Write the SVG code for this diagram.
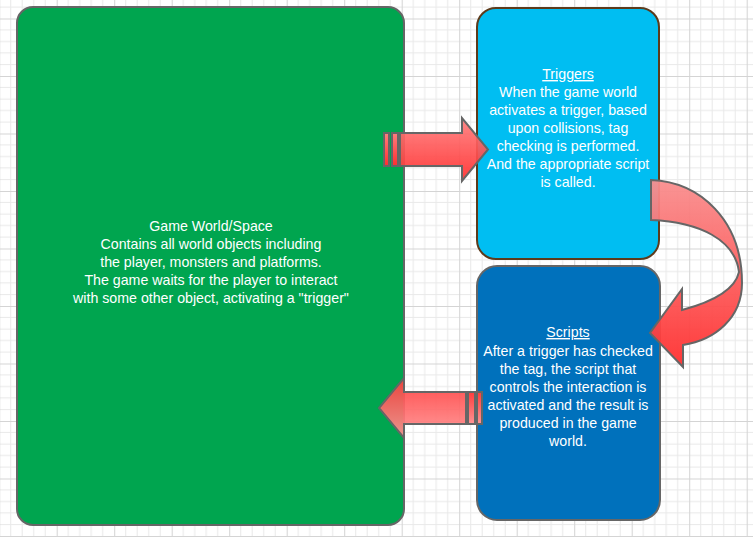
<svg xmlns="http://www.w3.org/2000/svg" width="753" height="537" viewBox="0 0 753 537">
<defs>
<pattern id="grid" patternUnits="userSpaceOnUse" x="-0.8" y="18.5" width="57.5" height="57.5">
<rect width="57.5" height="57.5" fill="#ffffff"/>
<g stroke="#e9e9e9" stroke-width="1">
<line x1="11.5" y1="0" x2="11.5" y2="57.5"/><line x1="23" y1="0" x2="23" y2="57.5"/><line x1="34.5" y1="0" x2="34.5" y2="57.5"/><line x1="46" y1="0" x2="46" y2="57.5"/>
<line x1="0" y1="11.5" x2="57.5" y2="11.5"/><line x1="0" y1="23" x2="57.5" y2="23"/><line x1="0" y1="34.5" x2="57.5" y2="34.5"/><line x1="0" y1="46" x2="57.5" y2="46"/>
</g>
<g stroke="#d4d4d4" stroke-width="1">
<line x1="0.5" y1="0" x2="0.5" y2="57.5"/><line x1="0" y1="0.5" x2="57.5" y2="0.5"/>
</g>
</pattern>
<linearGradient id="gRight" x1="0" y1="0" x2="0" y2="1">
<stop offset="0" stop-color="#ff7e7e"/><stop offset="1" stop-color="#ff2e2e"/>
</linearGradient>
<linearGradient id="gLeft" x1="0" y1="0" x2="0" y2="1">
<stop offset="0" stop-color="#ff3c3c"/><stop offset="1" stop-color="#ff9494"/>
</linearGradient>
<linearGradient id="gCurve" x1="0" y1="0" x2="0" y2="1">
<stop offset="0" stop-color="#f98f8f"/><stop offset="1" stop-color="#ff2f2f"/>
</linearGradient>
<style>
.box{stroke-width:2}
.txt{font-family:"Liberation Sans",Arial,sans-serif;font-size:14.2px;fill:#ffffff;text-anchor:middle}
.arr{stroke:#666666;stroke-width:2;stroke-linejoin:miter}
.u{text-decoration:underline}
</style>
</defs>
<rect width="753" height="537" fill="url(#grid)"/>

<g id="game-world">
<rect class="box" x="17" y="7" width="387" height="518" rx="16" ry="16" fill="#00a54f" stroke="#666666"/>
<text class="txt"><tspan x="211" y="231">Game World/Space</tspan><tspan x="211" y="249">Contains all world objects including</tspan><tspan x="211" y="267">the player, monsters and platforms.</tspan><tspan x="211" y="285">The game waits for the player to interact</tspan><tspan x="211" y="303">with some other object, activating a "trigger"</tspan></text>
</g>

<g id="triggers">
<rect class="box" x="477" y="8" width="182" height="251" rx="19" ry="19" fill="#00bef2" stroke="#5c3b1c"/>
<text class="txt"><tspan x="568" y="79" class="u">Triggers</tspan><tspan x="568" y="97">When the game world</tspan><tspan x="568" y="115">activates a trigger, based</tspan><tspan x="568" y="133">upon collisions, tag</tspan><tspan x="568" y="151">checking is performed.</tspan><tspan x="568" y="169">And the appropriate script</tspan><tspan x="568" y="187">is called.</tspan></text>
</g>

<g id="scripts">
<rect class="box" x="477" y="266" width="183" height="254" rx="20" ry="20" fill="#0071bc" stroke="#666666"/>
<text class="txt"><tspan x="568" y="337" class="u">Scripts</tspan><tspan x="568" y="356">After a trigger has checked</tspan><tspan x="568" y="374">the tag, the script that</tspan><tspan x="568" y="392">controls the interaction is</tspan><tspan x="568" y="410">activated and the result is</tspan><tspan x="568" y="428">produced in the game</tspan><tspan x="568" y="446">world.</tspan></text>
</g>

<g id="connectors">
<g id="arrow-world-to-triggers">
<rect class="arr" x="384" y="133" width="5" height="33" fill="url(#gRight)"/>
<rect class="arr" x="392" y="133" width="6" height="33" fill="url(#gRight)"/>
<path class="arr" d="M400,133 L462,133 L462,118 L488,149.5 L462,181 L462,166 L400,166 Z" fill="url(#gRight)" fill-opacity="0.92"/>
</g>
<g id="arrow-triggers-to-scripts">
<path class="arr" d="M651,180 C700,182 742,220 742,283 C742,318 715,340 683,345 L683,367 L650,333 L682,289 L682,310 C712,302 735,290 739,272 C735,240 700,222 651,220 Z" fill="url(#gCurve)" fill-opacity="0.95"/>
</g>
<g id="arrow-scripts-to-world">
<path class="arr" d="M466,392 L404,392 L404,378 L379,408 L404,438 L404,424 L466,424 Z" fill="url(#gLeft)" fill-opacity="0.92"/>
<rect class="arr" x="468" y="392" width="7" height="32" fill="url(#gLeft)"/>
<rect class="arr" x="477" y="392" width="5" height="32" fill="url(#gLeft)"/>
</g>
</g>
</svg>
